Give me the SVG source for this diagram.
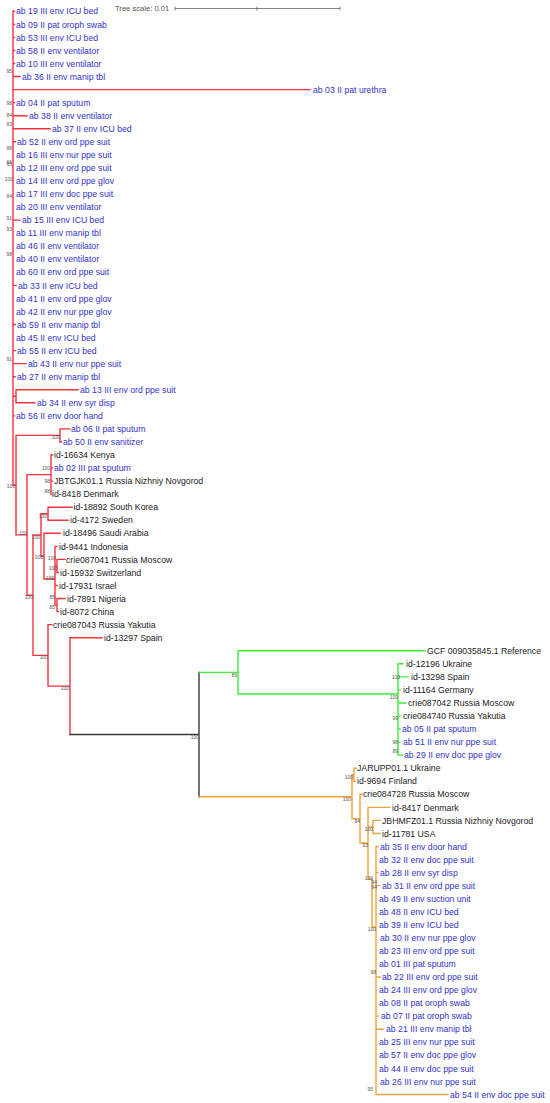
<svg xmlns="http://www.w3.org/2000/svg" width="550" height="1103" viewBox="0 0 550 1103">
<style>
.br{fill:none;stroke-width:1.4;stroke-linecap:square}
.r{stroke:#f5323f}.g{stroke:#3cf03c}.o{stroke:#f0a23c}.k{stroke:#3a3a3a}
text{font-family:"Liberation Sans",Arial,sans-serif}
.b{font-size:8.7px;fill:#3333cc}
.n{font-size:8.7px;fill:#222}
.s{font-size:5px;fill:#555;text-anchor:end}
.sc{font-size:7.6px;fill:#555}
</style>
<rect width="550" height="1103" fill="#fff"/>
<g id="scale">
<text class="sc" x="115" y="11">Tree scale: 0.01</text>
<path d="M175 8.5H340M175 6.5V10.5M257 6.5V10.5M340 6.5V10.5" stroke="#666" stroke-width="0.8" fill="none"/>
</g>
<g id="connectors">
<path class="br r" d="M13 11.3V485.2M13 11.3H14.5M13 24.35H14.5M13 37.4H14.5M13 50.45H14.5M13 63.5H14.5M13 76.55H20M13 89.6H310M13 102.65H14.5M13 115.7H27M13 128.75H50M13 141.8H15.5M13 220.1H20M13 285.35H16M13 324.5H15.5M13 350.6H15.5M13 363.65H26M13 376.7H15M13 396.3H16M16 389.75V402.8M16 389.75H78M16 402.8H35M13 415.85H14.5
M13 485.2H16M16 435.4V534.9M16 435.4H60M60 428.9V441.95M60 428.9H70M60 441.95H61.5
M16 534.9H27M27 474.6V595.2M27 474.6H51M51 455V494.15M51 455H52.5M51 468.05H52.5M51 481.1H52.5M51 494.15H51.5
M27 595.2H33M33 535V655.4M33 535H41M41 513.7V556.2M41 513.7H48M48 507.2V520.25M48 507.2H72M48 520.25H68
M41 556.2H44M44 533.3V579M44 533.3H60M44 579H55M55 546.35V605.1M55 546.35H57M55 565.9H57M57 559.4V572.45M57 559.4H65M57 572.45H58.5M55 585.5H57M55 605.1H57M57 598.55V611.6M57 598.55H65M57 611.6H58.5
M33 655.4H48M48 624.65V686.1M48 624.65H52M48 686.1H70M70 637.7V734.5M70 637.7H102"/>
<path class="br k" d="M70 734.5H199M199 672.4V796.7"/>
<path class="br g" d="M199 672.4H238M238 650.75V694M238 650.75H425M238 694H398M398 663.8V755.15M398 663.8H403M398 676.85H408M398 689.9H400M398 702.95H406M398 716H400M398 729.05H400M398 742.1H400M398 755.15H403"/>
<path class="br o" d="M199 796.7H352M352 774.7V818.7M352 774.7H354M354 768.2V781.25M354 768.2H356M354 781.25H355.5M352 818.7H360M360 794.3V843M360 794.3H362M360 843H368M368 807.35V879M368 807.35H390M368 826.9H373M373 820.4V833.45M373 820.4H380M373 833.45H380M368 879H372M372 879V927M372 927H376M376 846.5V1094.45M376 846.5H378M376 872.6H378M376 885.65H380M376 977H380M376 1016.15H378M376 1029.2H383M376 1094.45H448"/>
</g>
<g id="support">
<text class="s" x="12" y="73">95</text>
<text class="s" x="12" y="105">98</text>
<text class="s" x="12" y="117">84</text>
<text class="s" x="12" y="126">83</text>
<text class="s" x="12" y="150">88</text>
<text class="s" x="12" y="164">66</text>
<text class="s" x="12" y="166">65</text>
<text class="s" x="13" y="181">100</text>
<text class="s" x="12" y="198">84</text>
<text class="s" x="12" y="220">91</text>
<text class="s" x="12" y="231">93</text>
<text class="s" x="12" y="256">98</text>
<text class="s" x="12" y="361">91</text>
<text class="s" x="60" y="439">100</text>
<text class="s" x="15" y="488">100</text>
<text class="s" x="50" y="470">100</text>
<text class="s" x="50" y="483">98</text>
<text class="s" x="50" y="493">88</text>
<text class="s" x="47" y="518">100</text>
<text class="s" x="27" y="535">100</text>
<text class="s" x="40" y="539">100</text>
<text class="s" x="43" y="559">100</text>
<text class="s" x="56" y="560">100</text>
<text class="s" x="57" y="570">100</text>
<text class="s" x="54" y="580">100</text>
<text class="s" x="33" y="599">100</text>
<text class="s" x="55" y="599">85</text>
<text class="s" x="55" y="609">85</text>
<text class="s" x="48" y="659">100</text>
<text class="s" x="69" y="690">100</text>
<text class="s" x="199" y="739">100</text>
<text class="s" x="237" y="677">89</text>
<text class="s" x="400" y="679">100</text>
<text class="s" x="398" y="699">100</text>
<text class="s" x="398" y="720">99</text>
<text class="s" x="398" y="744">98</text>
<text class="s" x="398" y="753">89</text>
<text class="s" x="353" y="779">100</text>
<text class="s" x="351" y="801">100</text>
<text class="s" x="360" y="823">94</text>
<text class="s" x="373" y="831">100</text>
<text class="s" x="368" y="847">93</text>
<text class="s" x="373" y="880">100</text>
<text class="s" x="377" y="884">94</text>
<text class="s" x="377" y="889">94</text>
<text class="s" x="376" y="931">100</text>
<text class="s" x="376" y="974">98</text>
<text class="s" x="373" y="1091">95</text>
</g>
<g id="leaves">
<g id="ab19"><text class="b" x="16" y="14.4">ab 19 III env ICU bed</text></g>
<g id="ab09"><text class="b" x="16" y="27.5">ab 09 II pat oroph swab</text></g>
<g id="ab53"><text class="b" x="16" y="40.5">ab 53 III env ICU bed</text></g>
<g id="ab58"><text class="b" x="16" y="53.6">ab 58 II env ventilator</text></g>
<g id="ab10"><text class="b" x="16" y="66.6">ab 10 III env ventilator</text></g>
<g id="ab36"><text class="b" x="22" y="79.7">ab 36 II env manip tbl</text></g>
<g id="ab03"><text class="b" x="313" y="92.7">ab 03 II pat urethra</text></g>
<g id="ab04"><text class="b" x="16" y="105.8">ab 04 II pat sputum</text></g>
<g id="ab38"><text class="b" x="29" y="118.8">ab 38 II env ventilator</text></g>
<g id="ab37"><text class="b" x="52" y="131.9">ab 37 II env ICU bed</text></g>
<g id="ab52"><text class="b" x="17" y="144.9">ab 52 II env ord ppe suit</text></g>
<g id="ab16"><text class="b" x="16" y="158">ab 16 III env nur ppe suit</text></g>
<g id="ab12"><text class="b" x="16" y="171">ab 12 III env ord ppe suit</text></g>
<g id="ab14"><text class="b" x="16" y="184.1">ab 14 III env ord ppe glov</text></g>
<g id="ab17"><text class="b" x="16" y="197.1">ab 17 III env doc ppe suit</text></g>
<g id="ab20"><text class="b" x="16" y="210.2">ab 20 III env ventilator</text></g>
<g id="ab15"><text class="b" x="22" y="223.2">ab 15 III env ICU bed</text></g>
<g id="ab11"><text class="b" x="16" y="236.3">ab 11 III env manip tbl</text></g>
<g id="ab46"><text class="b" x="16" y="249.3">ab 46 II env ventilator</text></g>
<g id="ab40"><text class="b" x="16" y="262.4">ab 40 II env ventilator</text></g>
<g id="ab60"><text class="b" x="16" y="275.4">ab 60 II env ord ppe suit</text></g>
<g id="ab33"><text class="b" x="18" y="288.5">ab 33 II env ICU bed</text></g>
<g id="ab41"><text class="b" x="16" y="301.5">ab 41 II env ord ppe glov</text></g>
<g id="ab42"><text class="b" x="16" y="314.6">ab 42 II env nur ppe glov</text></g>
<g id="ab59"><text class="b" x="17" y="327.6">ab 59 II env manip tbl</text></g>
<g id="ab45"><text class="b" x="16" y="340.7">ab 45 II env ICU bed</text></g>
<g id="ab55"><text class="b" x="17" y="353.7">ab 55 II env ICU bed</text></g>
<g id="ab43"><text class="b" x="28" y="366.8">ab 43 II env nur ppe suit</text></g>
<g id="ab27"><text class="b" x="17" y="379.8">ab 27 II env manip tbl</text></g>
<g id="ab13"><text class="b" x="80" y="392.9">ab 13 III env ord ppe suit</text></g>
<g id="ab34"><text class="b" x="37" y="405.9">ab 34 II env syr disp</text></g>
<g id="ab56"><text class="b" x="16" y="419">ab 56 II env door hand</text></g>
<g id="ab06"><text class="b" x="71" y="432">ab 06 II pat sputum</text></g>
<g id="ab50"><text class="b" x="63" y="445.1">ab 50 II env sanitizer</text></g>
<g id="id16634"><text class="n" x="54" y="458.1">id-16634 Kenya</text></g>
<g id="ab02"><text class="b" x="54" y="471.2">ab 02 III pat sputum</text></g>
<g id="JBTGJK"><text class="n" x="54" y="484.2">JBTGJK01.1 Russia Nizhniy Novgorod</text></g>
<g id="id8418"><text class="n" x="52" y="497.3">id-8418 Denmark</text></g>
<g id="id18892"><text class="n" x="73.5" y="510.3">id-18892 South Korea</text></g>
<g id="id4172"><text class="n" x="70" y="523.4">id-4172 Sweden</text></g>
<g id="id18496"><text class="n" x="63" y="536.4">id-18496 Saudi Arabia</text></g>
<g id="id9441"><text class="n" x="59" y="549.5">id-9441 Indonesia</text></g>
<g id="crie087041"><text class="n" x="66" y="562.5">crie087041 Russia Moscow</text></g>
<g id="id15932"><text class="n" x="60" y="575.6">id-15932 Switzerland</text></g>
<g id="id17931"><text class="n" x="59" y="588.6">id-17931 Israel</text></g>
<g id="id7891"><text class="n" x="67" y="601.7">id-7891 Nigeria</text></g>
<g id="id8072"><text class="n" x="60" y="614.7">id-8072 China</text></g>
<g id="crie087043"><text class="n" x="53" y="627.8">crie087043 Russia Yakutia</text></g>
<g id="id13297"><text class="n" x="104" y="640.8">id-13297 Spain</text></g>
<g id="GCF"><text class="n" x="427" y="653.9">GCF 009035845.1 Reference</text></g>
<g id="id12196"><text class="n" x="406" y="666.9">id-12196 Ukraine</text></g>
<g id="id13298"><text class="n" x="411" y="680">id-13298 Spain</text></g>
<g id="id11164"><text class="n" x="403" y="693">id-11164 Germany</text></g>
<g id="crie087042"><text class="n" x="408" y="706.1">crie087042 Russia Moscow</text></g>
<g id="crie084740"><text class="n" x="403" y="719.1">crie084740 Russia Yakutia</text></g>
<g id="ab05"><text class="b" x="402" y="732.2">ab 05 II pat sputum</text></g>
<g id="ab51"><text class="b" x="403" y="745.2">ab 51 II env nur ppe suit</text></g>
<g id="ab29"><text class="b" x="404" y="758.3">ab 29 II env doc ppe glov</text></g>
<g id="JARUPP"><text class="n" x="357" y="771.3">JARUPP01.1 Ukraine</text></g>
<g id="id9694"><text class="n" x="357" y="784.4">id-9694 Finland</text></g>
<g id="crie084728"><text class="n" x="363" y="797.4">crie084728 Russia Moscow</text></g>
<g id="id8417"><text class="n" x="392" y="810.5">id-8417 Denmark</text></g>
<g id="JBHMFZ"><text class="n" x="382" y="823.5">JBHMFZ01.1 Russia Nizhniy Novgorod</text></g>
<g id="id11781"><text class="n" x="382" y="836.6">id-11781 USA</text></g>
<g id="ab35"><text class="b" x="380" y="849.6">ab 35 II env door hand</text></g>
<g id="ab32"><text class="b" x="379" y="862.7">ab 32 II env doc ppe suit</text></g>
<g id="ab28"><text class="b" x="380" y="875.7">ab 28 II env syr disp</text></g>
<g id="ab31"><text class="b" x="382" y="888.8">ab 31 II env ord ppe suit</text></g>
<g id="ab49"><text class="b" x="379" y="901.8">ab 49 II env suction unit</text></g>
<g id="ab48"><text class="b" x="379" y="914.9">ab 48 II env ICU bed</text></g>
<g id="ab39"><text class="b" x="379" y="927.9">ab 39 II env ICU bed</text></g>
<g id="ab30"><text class="b" x="380" y="941">ab 30 II env nur ppe glov</text></g>
<g id="ab23"><text class="b" x="379" y="954">ab 23 III env ord ppe suit</text></g>
<g id="ab01"><text class="b" x="379" y="967.1">ab 01 III pat sputum</text></g>
<g id="ab22"><text class="b" x="382" y="980.1">ab 22 III env ord ppe suit</text></g>
<g id="ab24"><text class="b" x="379" y="993.2">ab 24 III env ord ppe glov</text></g>
<g id="ab08"><text class="b" x="379" y="1006.2">ab 08 II pat oroph swab</text></g>
<g id="ab07"><text class="b" x="381" y="1019.3">ab 07 II pat oroph swab</text></g>
<g id="ab21"><text class="b" x="386" y="1032.3">ab 21 III env manip tbl</text></g>
<g id="ab25"><text class="b" x="379" y="1045.4">ab 25 III env nur ppe suit</text></g>
<g id="ab57"><text class="b" x="379" y="1058.4">ab 57 II env doc ppe glov</text></g>
<g id="ab44"><text class="b" x="379" y="1071.5">ab 44 II env doc ppe suit</text></g>
<g id="ab26"><text class="b" x="380" y="1084.5">ab 26 III env nur ppe suit</text></g>
<g id="ab54"><text class="b" x="450" y="1097.6">ab 54 II env doc ppe suit</text></g>
</g>
</svg>
